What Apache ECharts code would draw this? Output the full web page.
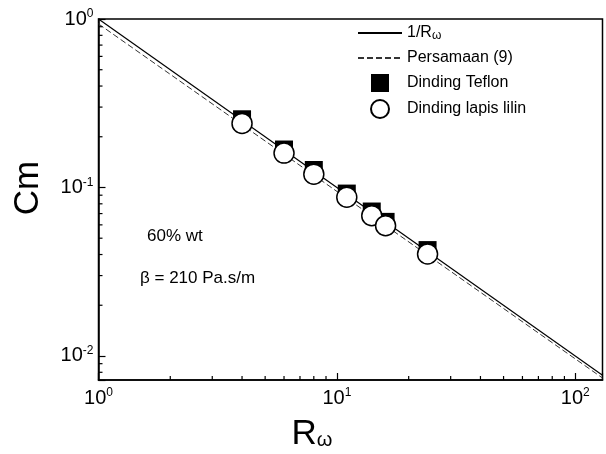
<!DOCTYPE html>
<html>
<head>
<meta charset="utf-8">
<script src="https://cdn.jsdelivr.net/npm/echarts@6/dist/echarts.min.js"></script>
<style>
  html, body { margin: 0; padding: 0; background: #fff; }
  #chart { width: 606px; height: 454px; }
</style>
</head>
<body>
<div id="chart"></div>
<script>
// Wall-ratio data (log-log): Cm versus Rω
const rOmega = [4, 6, 8, 11, 14, 16, 24];
const cmTeflon = [0.254, 0.168, 0.127, 0.092, 0.072, 0.0625, 0.0425];
const cmLilin = [0.240, 0.160, 0.120, 0.0875, 0.068, 0.0593, 0.0403];

// Straight reference lines on log-log axes (end points)
const lineInvR = [[1, 1], [130, 0.00769]];
const linePersamaan = [[1, 0.935], [130, 0.0074]];

// Minor tick positions
const xMinorTicks = [2, 3, 4, 5, 6, 7, 8, 9, 20, 30, 40, 50, 60, 70, 80, 90];
const yMinorTicks = [0.008, 0.009, 0.02, 0.03, 0.04, 0.05, 0.06, 0.07, 0.08, 0.09,
                     0.2, 0.3, 0.4, 0.5, 0.6, 0.7, 0.8, 0.9];

const SANS = "'Liberation Sans', Arial, sans-serif";

function powLabel(v) {
  const e = Math.log10(v);
  const r = Math.round(e);
  if (Math.abs(e - r) > 1e-6) return '';
  return '{b|10}{s|' + r + '}';
}
const powRich = {
  b: { fontSize: 20, fontFamily: SANS, color: '#000', lineHeight: 22 },
  s: { fontSize: 12, fontFamily: SANS, color: '#000', verticalAlign: 'top', lineHeight: 22, padding: [0, 0, 12, 0] }
};

const chart = echarts.init(document.getElementById('chart'), null, { renderer: 'canvas' });

function minorTickRenderer(dir) {
  return function (params, api) {
    const cs = params.coordSys;
    const p = api.coord([api.value(0), api.value(1)]);
    const len = 4;
    let shape;
    if (dir === 'x') {
      const yb = cs.y + cs.height;
      shape = { x1: p[0], y1: yb, x2: p[0], y2: yb - len };
    } else {
      shape = { x1: cs.x, y1: p[1], x2: cs.x + len, y2: p[1] };
    }
    return { type: 'line', shape: shape, style: { stroke: '#000', lineWidth: 1.2 } };
  };
}

const hiddenSymbol = { color: 'rgba(0,0,0,0)', borderColor: 'rgba(0,0,0,0)', borderWidth: 0 };

chart.setOption({
  animation: false,
  backgroundColor: '#fff',
  grid: {
    left: 98.5, top: 19, right: 3.5, bottom: 74,
    show: true, borderColor: '#000', borderWidth: 1.5, backgroundColor: 'transparent'
  },
  xAxis: {
    type: 'log', logBase: 10, min: 1, max: 130,
    axisLine: { lineStyle: { color: '#000', width: 1.5 } },
    axisTick: { inside: true, length: 7, lineStyle: { color: '#000', width: 1.2 } },
    axisLabel: { formatter: powLabel, rich: powRich, margin: 7, color: '#000' },
    splitLine: { show: false }
  },
  yAxis: {
    type: 'log', logBase: 10, min: 0.0072, max: 1,
    axisLine: { lineStyle: { color: '#000', width: 1.5 } },
    axisTick: { inside: true, length: 7, lineStyle: { color: '#000', width: 1.2 } },
    axisLabel: { formatter: powLabel, rich: powRich, margin: 5, color: '#000' },
    splitLine: { show: false }
  },
  legend: {
    orient: 'vertical', left: 357, top: 24,
    itemWidth: 44, itemHeight: 18, itemGap: 7, padding: 0,
    textStyle: {
      fontFamily: SANS, fontSize: 16, color: '#000', lineHeight: 18,
      rich: { w: { fontFamily: SANS, fontSize: 12, color: '#000', lineHeight: 18, padding: [5, 0, 0, 0] } }
    },
    formatter: function (name) { return name === '1/Rω' ? '1/R{w|ω}' : name; },
    data: [
      { name: '1/Rω', itemStyle: hiddenSymbol },
      { name: 'Persamaan (9)', itemStyle: hiddenSymbol },
      { name: 'Dinding Teflon', icon: 'path://M0 0H10V10H0Z' },
      { name: 'Dinding lapis lilin', icon: 'circle' }
    ]
  },
  graphic: [
    { type: 'text', x: 28, y: 188, rotation: Math.PI / 2,
      style: { text: 'Cm', fontSize: 35, fontFamily: SANS, fill: '#000', align: 'center', verticalAlign: 'middle' } },
    { type: 'text', x: 312, y: 434,
      style: { text: '{r|R}{w|ω}', align: 'center', verticalAlign: 'middle',
        rich: { r: { fontSize: 35, fontFamily: SANS, fill: '#000', lineHeight: 36 },
                w: { fontSize: 20, fontFamily: SANS, fill: '#000', lineHeight: 36, padding: [12, 0, 0, 0] } } } },
    { type: 'text', x: 147, y: 236,
      style: { text: '60% wt', fontSize: 17, fontFamily: SANS, fill: '#000', verticalAlign: 'middle' } },
    { type: 'text', x: 140, y: 278,
      style: { text: 'β = 210 Pa.s/m', fontSize: 17, fontFamily: SANS, fill: '#000', verticalAlign: 'middle' } }
  ],
  series: [
    { name: 'x-minor', type: 'custom', silent: true, z: 5,
      renderItem: minorTickRenderer('x'), data: xMinorTicks.map(v => [v, 0.1]) },
    { name: 'y-minor', type: 'custom', silent: true, z: 5,
      renderItem: minorTickRenderer('y'), data: yMinorTicks.map(v => [1, v]) },
    { name: '1/Rω', type: 'line', symbol: 'none', z: 2, silent: true,
      lineStyle: { color: '#000', width: 1.2, type: 'solid' }, itemStyle: hiddenSymbol,
      data: lineInvR },
    { name: 'Persamaan (9)', type: 'line', symbol: 'none', z: 2, silent: true,
      lineStyle: { color: '#333', width: 1, type: [6, 3] }, itemStyle: hiddenSymbol,
      data: linePersamaan },
    { name: 'Dinding Teflon', type: 'scatter', symbol: 'rect', symbolSize: 18, z: 3,
      itemStyle: { color: '#000', opacity: 1 },
      data: rOmega.map((r, i) => [r, cmTeflon[i]]) },
    { name: 'Dinding lapis lilin', type: 'scatter', symbol: 'circle', symbolSize: 20, z: 4,
      itemStyle: { color: '#fff', borderColor: '#000', borderWidth: 1.5, opacity: 1 },
      data: rOmega.map((r, i) => [r, cmLilin[i]]) }
  ]
});
</script>
</body>
</html>
